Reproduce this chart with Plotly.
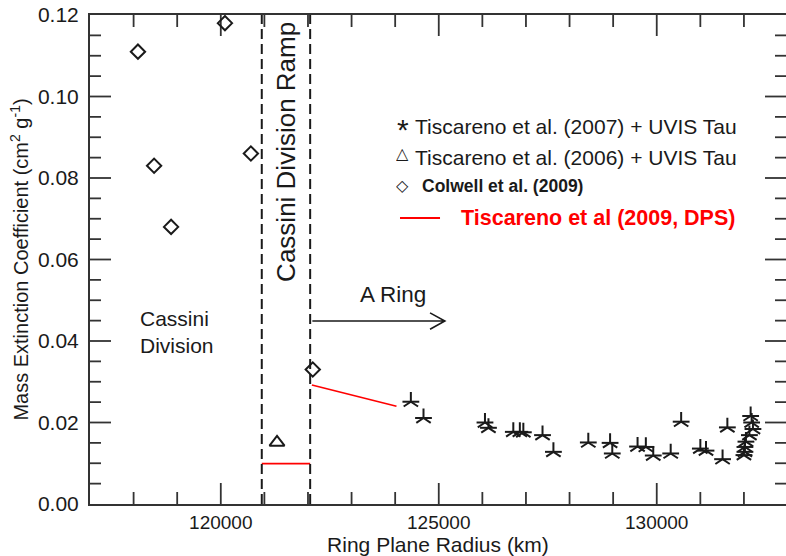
import plotly.graph_objects as go

# --- data -----------------------------------------------------------------
# Tiscareno et al. (2007) + UVIS Tau  (radius km, mass extinction coefficient)
tis07_r = [124360, 124650, 126060, 126140, 126710, 126860, 126940, 127380,
           127630, 128430, 128930, 128980, 129560, 129750, 129920, 130320,
           130560, 131000, 131130, 131510, 131620,
           132154, 132177, 132207, 132126, 132046, 132023, 132023, 132000]
tis07_k = [0.0251, 0.0211, 0.0200, 0.0187, 0.0177, 0.0177, 0.0176, 0.0169,
           0.0128, 0.0151, 0.0150, 0.0124, 0.0141, 0.0140, 0.0119, 0.0124,
           0.0202, 0.0136, 0.0131, 0.0110, 0.0188,
           0.0216, 0.0200, 0.0184, 0.0169, 0.0153, 0.0140, 0.0128, 0.0120]

# Tiscareno et al. (2006) + UVIS Tau
tis06_r = [121290]
tis06_k = [0.0151]

# Colwell et al. (2009)
colwell_r = [118100, 120096, 118470, 118860, 120690, 122110]
colwell_k = [0.111, 0.118, 0.083, 0.068, 0.086, 0.033]

# Tiscareno et al (2009, DPS): ramp level and inner A ring trend
dps_r = [120940, 122050, None, 122090, 124030]
dps_k = [0.0099, 0.0099, None, 0.0292, 0.0240]

# region boundaries: Cassini Division / Ramp, Ramp / A Ring
boundaries = [120940, 122050]
a_ring_arrow_end = 125140

x_range = [117000, 132965]
y_range = [0.0, 0.12]

# tick marks (IDL style: inside, on all four sides)
x_major = [120000, 125000, 130000]
x_minor = [r for r in range(118000, 133000, 1000) if r not in x_major]
y_major = [0.02, 0.04, 0.06, 0.08, 0.10]
y_minor = [i * 0.005 for i in range(1, 24) if i % 4 != 0]

FONT = "Liberation Sans, Arial, Helvetica, sans-serif"
INK = "#1a1a1a"
AXIS = "#333333"

# plot area size in pixels, used to turn tick lengths into axis units
PLOT_W, PLOT_H = 696, 489
KM_PER_PX = (x_range[1] - x_range[0]) / PLOT_W
K_PER_PX = (y_range[1] - y_range[0]) / PLOT_H

fig = go.Figure()

# inside tick marks as line segments on all four frame sides
tx, ty = [], []
for vals, length in ((x_major, 21), (x_minor, 12)):
    h = length * K_PER_PX
    for v in vals:
        tx += [v, v, None, v, v, None]
        ty += [y_range[0], y_range[0] + h, None,
               y_range[1], y_range[1] - h, None]
for vals, length in ((y_major, 21), (y_minor, 11)):
    w = length * KM_PER_PX
    for v in vals:
        tx += [x_range[0], x_range[0] + w, None,
               x_range[1], x_range[1] - w, None]
        ty += [v, v, None, v, v, None]
fig.add_trace(go.Scatter(
    x=tx, y=ty, mode="lines", showlegend=False, hoverinfo="skip",
    line=dict(color=AXIS, width=1.8), connectgaps=False, cliponaxis=False,
))

# five-armed asterisk built from a 'y' glyph plus a horizontal bar
for sym in ("y-up-open", "line-ew-open"):
    fig.add_trace(go.Scatter(
        x=tis07_r, y=tis07_k, mode="markers", showlegend=False,
        marker=dict(symbol=sym, size=12, color=INK,
                    line=dict(color=INK, width=2)),
    ))
fig.add_trace(go.Scatter(
    x=tis06_r, y=tis06_k, mode="markers", showlegend=False,
    marker=dict(symbol="triangle-up-open", size=13, color=INK,
                line=dict(color=INK, width=2)),
))
fig.add_trace(go.Scatter(
    x=colwell_r, y=colwell_k, mode="markers", showlegend=False,
    marker=dict(symbol="diamond-open", size=11, color=INK,
                line=dict(color=INK, width=2)),
))
fig.add_trace(go.Scatter(
    x=dps_r, y=dps_k, mode="lines", showlegend=False,
    line=dict(color="#ff0000", width=1.6), connectgaps=False,
))

shapes = []
for b in boundaries:
    shapes.append(dict(type="line", xref="x", yref="paper", x0=b, x1=b,
                       y0=0, y1=1, line=dict(color=INK, width=2,
                                             dash="10px,5px")))

# "A Ring" arrow with open chevron head
ay, dy = 0.0449, 0.0020
xh = a_ring_arrow_end - 340
shapes.append(dict(
    type="path", xref="x", yref="y",
    path=(f"M {boundaries[1] + 50},{ay} L {a_ring_arrow_end},{ay} "
          f"M {xh},{ay + dy} L {a_ring_arrow_end},{ay} L {xh},{ay - dy}"),
    line=dict(color=INK, width=1.6),
))

# legend key: red line
shapes.append(dict(type="line", xref="paper", yref="paper",
                   x0=0.4454, x1=0.5029, y0=0.5849, y1=0.5849,
                   line=dict(color="#ff0000", width=2)))

ann = []


def txt(text, x, y, size=21, xref="paper", yref="paper", xanchor="left",
        color=INK, family=FONT, **kw):
    ann.append(dict(text=text, x=x, y=y, xref=xref, yref=yref,
                    xanchor=xanchor, yanchor="middle", showarrow=False,
                    font=dict(size=size, color=color, family=family), **kw))


# region labels
txt("Cassini<br>Division", 118100, 0.0422, xref="x", yref="y", align="left")
txt("Cassini Division Ramp", sum(boundaries) / 2, 0.72, size=26, xref="x",
    xanchor="center", textangle=-90)
txt("A Ring", 123150, 0.0515, size=22.5, xref="x", yref="y")

# legend entries (key glyphs get compact boxes)
txt("*", 0.4497, 0.766, size=30, xanchor="center", height=18,
    valign="middle")
txt("Tiscareno et al. (2007) + UVIS Tau", 0.4640, 0.773)
txt("\u25b3", 0.4497, 0.718, size=16, xanchor="center",
    family="DejaVu Sans", height=16, valign="middle")
txt("Tiscareno et al. (2006) + UVIS Tau", 0.4640, 0.7076)
txt("\u25c7", 0.4497, 0.652, size=16, xanchor="center",
    family="DejaVu Sans", height=16, valign="middle")
txt("<b>Colwell et al. (2009)</b>", 0.474, 0.6503, size=17.5)
txt("<b>Tiscareno et al (2009, DPS)</b>", 0.530, 0.5849, size=21.5,
    color="#ff0000")

fig.update_layout(
    template="none",
    width=786, height=556,
    margin=dict(l=90, r=0, t=15, b=52),
    paper_bgcolor="white", plot_bgcolor="white",
    font=dict(family=FONT, size=20, color=INK),
    shapes=shapes, annotations=ann,
    showlegend=False,
)

fig.update_xaxes(
    range=x_range, showline=True, linecolor=AXIS, linewidth=2,
    mirror=True, ticks="", dtick=5000, tickformat="d",
    showgrid=False, zeroline=False,
    tickfont=dict(size=19, family=FONT, color=INK),
    title=dict(text="Ring Plane Radius (km)", standoff=0,
               font=dict(size=21, family=FONT, color=INK)),
    automargin=False,
)
fig.update_yaxes(
    range=y_range, showline=True, linecolor=AXIS, linewidth=2,
    mirror=True, ticks="", dtick=0.02, tickformat=".2f",
    showgrid=False, zeroline=False, ticklabelstandoff=5,
    tickfont=dict(size=21, family=FONT, color=INK),
    title=dict(text="Mass Extinction Coefficient (cm<sup>2</sup> g<sup>-1</sup>)",
               standoff=4, font=dict(size=20, family=FONT, color=INK)),
    automargin=False,
)

fig.write_html("out.html")
